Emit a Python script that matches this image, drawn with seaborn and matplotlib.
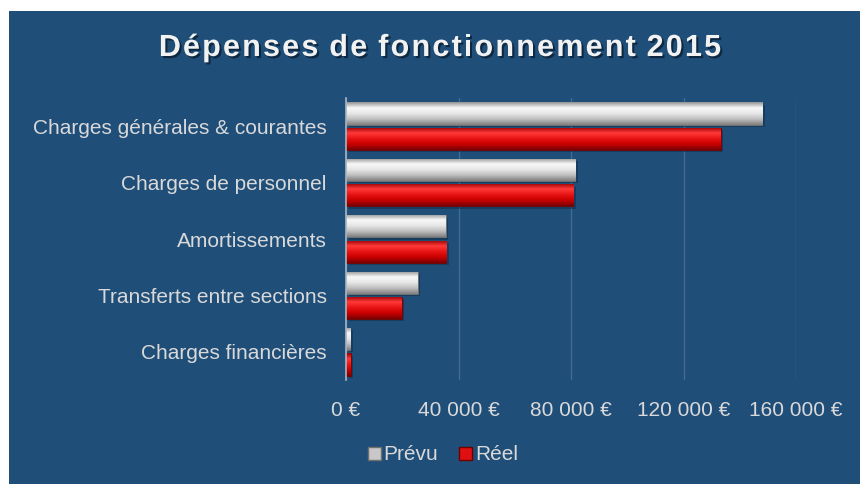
import seaborn as sns
import matplotlib.pyplot as plt
import matplotlib.patheffects as pe
from matplotlib.patches import Rectangle, Patch
from matplotlib.colors import LinearSegmentedColormap
import numpy as np
import pandas as pd

# Données
categories = ["Charges générales & courantes", "Charges de personnel",
              "Amortissements", "Transferts entre sections", "Charges financières"]
prevu = [148000, 81500, 35400, 25500, 1500]
reel = [133200, 80800, 35700, 19800, 1600]
series = ["Prévu", "Réel"]
xticks = [0, 40000, 80000, 120000, 160000]
xtick_labels = ["0 €", "40 000 €", "80 000 €", "120 000 €", "160 000 €"]
titre = "Dépenses de fonctionnement 2015"

df = pd.DataFrame({
    "categorie": categories * 2,
    "serie": [series[0]] * len(categories) + [series[1]] * len(categories),
    "montant": prevu + reel,
})

sns.set_theme(style="white")
plt.rcParams["font.family"] = ["Liberation Sans", "DejaVu Sans"]

bleu = "#1F4E79"
texte = "#D9D9D9"

fig = plt.figure(figsize=(8.6, 4.84), dpi=100)
fig.patch.set_facecolor("white")
fig.patches.append(Rectangle((9 / 860, 0), 1, 1 - 11 / 484, transform=fig.transFigure,
                             facecolor=bleu, edgecolor="none", zorder=-5))

ax = fig.add_axes([346 / 860, 1 - 380 / 484, 450 / 860, 282 / 484])
ax.set_facecolor("none")

sns.barplot(data=df, y="categorie", x="montant", hue="serie", orient="h",
            palette={"Prévu": "#C8C8C8", "Réel": "#E01010"},
            width=0.9, gap=0.13, ax=ax, legend=False, zorder=3)

# effet "biseau" : dégradé vertical dans chaque barre
cmaps = {
    "Prévu": LinearSegmentedColormap.from_list("g", ["#949494", "#F8F8F8", "#E6E6E6", "#BEBEBE", "#808080"]),
    "Réel": LinearSegmentedColormap.from_list("r", ["#9A0000", "#FF3A3A", "#E81414", "#C80000", "#7A0000"]),
}
ylim = ax.get_ylim()
grad = np.linspace(0, 1, 64).reshape(-1, 1)
n = len(categories)
for i, p in enumerate(ax.patches[:2 * n]):
    s = series[i // n]
    p.set_edgecolor("#6E6E6E" if s == "Prévu" else "#6E0000")
    p.set_linewidth(0.6)
    x0, y0, w, h = p.get_x(), p.get_y(), p.get_width(), p.get_height()
    # ombre
    ax.add_patch(Rectangle((x0 + 900, y0 + 0.04), w, h, facecolor="#0E2B47",
                           alpha=0.5, edgecolor="none", zorder=2))
    im = ax.imshow(grad, extent=(x0, x0 + w, y0, y0 + h), origin="lower",
                   aspect="auto", cmap=cmaps[s], zorder=3.5)
    im.set_clip_path(p)
ax.set_ylim(ylim)
ax.set_xlim(0, 160000)

ax.set_xticks(xticks)
ax.set_xticklabels(xtick_labels)
ax.grid(axis="x", color="#46698F", linewidth=1, zorder=1)
ax.grid(axis="y", visible=False)
for side in ["top", "right", "bottom"]:
    ax.spines[side].set_visible(False)
ax.spines["left"].set_color("#A6B4C4")
ax.spines["left"].set_linewidth(1.2)
ax.spines["left"].set_zorder(4)
ax.tick_params(axis="x", length=0, pad=15, labelsize=15, labelcolor=texte)
ax.tick_params(axis="y", length=0, pad=14, labelsize=15, labelcolor=texte)
ax.set_xlabel("")
ax.set_ylabel("")

# titre avec espacement des lettres
renderer = fig.canvas.get_renderer()
ombre = [pe.withSimplePatchShadow(offset=(1.5, -1.5), shadow_rgbFace="#0A1F33", alpha=0.8)]
props = dict(fontsize=22, fontweight="bold", color="#F2F2F2", va="center", ha="left")
espace = 2.2
largeurs = []
for c in titre:
    t = fig.text(0, 0, c, **props)
    largeurs.append(t.get_window_extent(renderer).width if c != " " else 6.5)
    t.remove()
total = sum(largeurs) + espace * (len(titre) - 1)
x = 440 - total / 2
for c, lw in zip(titre, largeurs):
    fig.text(x / 860, 1 - 48 / 484, c, path_effects=ombre, **props)
    x += lw + espace

handles = [Patch(facecolor="#C8C8C8", edgecolor="#6E6E6E", label="Prévu"),
           Patch(facecolor="#E01010", edgecolor="#6E0000", label="Réel")]
leg = fig.legend(handles=handles, loc="center", bbox_to_anchor=(443 / 860, 1 - 455 / 484),
                 ncol=2, frameon=False, fontsize=15, handlelength=0.6, handleheight=0.6,
                 handletextpad=0.15, columnspacing=1.0)
for t in leg.get_texts():
    t.set_color(texte)

fig.savefig("out.png", dpi=100)
